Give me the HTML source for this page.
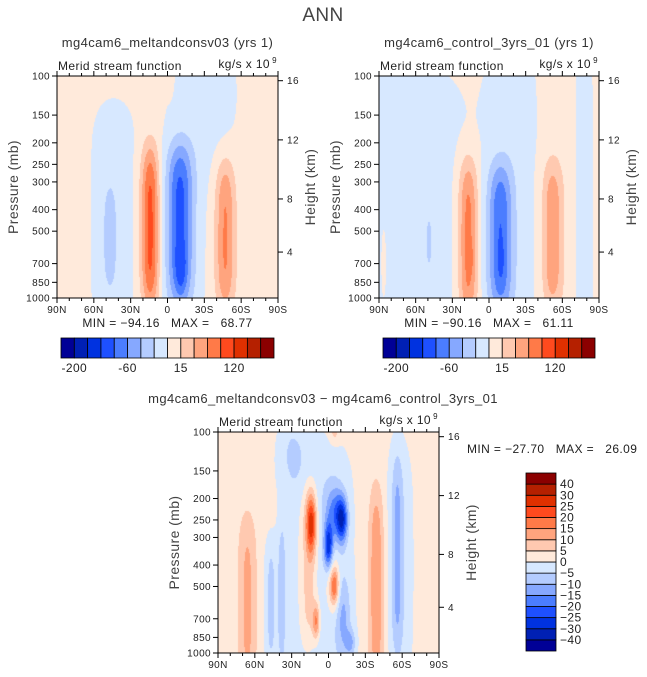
<!DOCTYPE html>
<html><head><meta charset="utf-8"><style>
body{margin:0;background:#fff;width:647px;height:677px;overflow:hidden;position:relative;font-family:"Liberation Sans",sans-serif}
canvas{position:absolute}
svg{position:absolute;left:0;top:0}
text{white-space:pre}
</style></head><body>
<canvas id="c1"></canvas>
<canvas id="c2"></canvas>
<canvas id="c3"></canvas>
<svg id="ov" width="647" height="677"></svg>
<script>
// ---- data ----
const palette=['#000096','#0020B4','#0032E0','#1E50FF','#4B7DFF','#86A8FF','#B4CCFF','#D7E8FF','#FFEADB','#FFC9B0','#FFA47E','#FF7A48','#FF4A1E','#E03000','#B52000','#8B0000'];
const levelsAbs=[-200,-160,-120,-80,-60,-40,-20,0,15,30,45,60,120,160,200];
const levelsDiff=[-40,-30,-25,-20,-15,-10,-5,0,5,10,15,20,25,30,40];
const cbAbsLabels=['-200','-60','15','120'];
const cbAbsLabelIdx=[0,4,8,12];
const cbDiffLabels=['40','30','25','20','15','10','5','0','\u22125','\u221210','\u221215','\u221220','\u221225','\u221230','\u221240'];
const pTicks=[100,150,200,250,300,400,500,700,850,1000];
const latTicks=[90,60,30,0,-30,-60,-90];
const latLabels=['90N','60N','30N','0','30S','60S','90S'];
const hTickLabels=['16','12','8','4'];
const hTickP=[105,194,358,621];
// blobs: [lat, pressure, amplitude, sx(deg), sy(log10 p), power]
const bg1=5, bg2=5, bg3=2.5;
const blobs1=[[14,480,62,7.5,0.37,4],[-10,470,-78,10.5,0.37,4],[-11,740,-25,4,0.1,2],[-47,520,42,8,0.34,4],[47,530,-30,5,0.22,3],[44,450,-14,18,0.55,6],[-28,120,-14,28,0.35,2],[-12,520,-14,17,0.42,6],[-2,100,12,3,0.08,2]];
const blobs2=[[62,500,-14,42,0.75,8],[86,700,9,2.5,0.2,2],[17,550,50,8,0.37,4],[15,660,12,2,0.06,2],[-9,540,-72,10,0.34,4],[-10,680,-10,3,0.1,2],[-18,350,-14,21,0.75,6],[-52,520,38,8.5,0.34,4],[-78,400,-14,7,0.8,6],[49,560,-16,3.5,0.14,3]];
const blobs3=[[66,600,9,7,0.4,4],[47,600,-8,5,0.3,4],[38,550,-8,3.5,0.35,4],[8,400,-7,28,0.6,6],[14,260,24,4,0.13,2],[16,400,11,7,0.38,4],[10,720,16,3,0.08,2],[0,330,-26,3.5,0.1,2],[-11,250,-26,4.5,0.1,2],[-5,230,-14,7,0.12,2],[-5,500,17,3.5,0.08,2],[-3,480,8,6,0.15,2],[-12,700,-10,6,0.2,2],[-39,500,13,6,0.45,4],[-56,350,-9,4.5,0.45,4],[-58,400,-6,12,0.6,4],[30,120,-6,12,0.2,2],[-5,100,6,4,0.05,2],[-18,900,-10,4,0.06,2]];

const panels=[
 {id:'c1',x0:57,x1:278,y0:76,y1:298,bg:bg1,blobs:blobs1,lev:levelsAbs},
 {id:'c2',x0:379,x1:599,y0:76,y1:298,bg:bg2,blobs:blobs2,lev:levelsAbs},
 {id:'c3',x0:218,x1:439,y0:432,y1:653,bg:bg3,blobs:blobs3,lev:levelsDiff}];

function xScale(p,lat){return p.x0+(90-lat)/180*(p.x1-p.x0);}
function yScale(p,pr){return p.y0+Math.log10(pr/100)*(p.y1-p.y0);}
function field(p,lat,lp){let v=p.bg;for(const b of p.blobs){const dx=(lat-b[0])/b[3],dy=Math.abs((lp-Math.log10(b[1]))/b[4]);v+=b[2]*Math.exp(-dx*dx-Math.pow(dy,b[5]));}return v;}
function colorIdx(lev,v){let i=0;while(i<lev.length&&v>=lev[i])i++;return i;}
function hex(h){return [parseInt(h.substr(1,2),16),parseInt(h.substr(3,2),16),parseInt(h.substr(5,2),16)];}
const pal=palette.map(hex);
for(const p of panels){
 const c=document.getElementById(p.id);const w=p.x1-p.x0,h=p.y1-p.y0;
 c.width=w;c.height=h;c.style.left=p.x0+'px';c.style.top=p.y0+'px';
 const ctx=c.getContext('2d');const img=ctx.createImageData(w,h);
 for(let j=0;j<h;j++){const lp=2+(j+0.5)/h;for(let i=0;i<w;i++){const lat=90-(i+0.5)/w*180;const k=colorIdx(p.lev,field(p,lat,lp));const col=pal[k];const o=(j*w+i)*4;img.data[o]=col[0];img.data[o+1]=col[1];img.data[o+2]=col[2];img.data[o+3]=255;}}
 ctx.putImageData(img,0,0);
}
// ---- overlay ----
const NS='http://www.w3.org/2000/svg';const ov=document.getElementById('ov');
function el(t,a,txt){const e=document.createElementNS(NS,t);for(const k in a)e.setAttribute(k,a[k]);if(txt!==undefined)e.textContent=txt;ov.appendChild(e);return e;}
function text(x,y,s,size,anchor,name,extra){const e=el('text',Object.assign({x:x,y:y,'font-size':size,'text-anchor':anchor||'start',fill:'#222','letter-spacing':'0.4'},extra||{}),s);
 
 return e;}
text(323,21,'ANN',19,'middle','main-title',{fill:'#444'});
const titles=['mg4cam6_meltandconsv03 (yrs 1)','mg4cam6_control_3yrs_01 (yrs 1)','mg4cam6_meltandconsv03 \u2212 mg4cam6_control_3yrs_01'];
const minmax=['MIN = \u221294.16   MAX =   68.77','MIN = \u221290.16   MAX =   61.11'];
panels.forEach((p,n)=>{
 const cx=(p.x0+p.x1)/2;
 text(n<2?cx:323,p.y0-29,titles[n],13,'middle','panel-title',{fill:'#333'});
 text(p.x0+1,p.y0-6,'Merid stream function',12,'start','variable-label');
 text(p.x1-8,p.y0-8,'kg/s x 10',12,'end','units-label');
 text(p.x1-1,p.y0-13,'9',8,'end','units-exponent');
 const r=el('rect',{x:p.x0,y:p.y0,width:p.x1-p.x0,height:p.y1-p.y0,fill:'none',stroke:'#000','stroke-width':1});
 
 
 pTicks.forEach(pr=>{const y=yScale(p,pr);el('line',{x1:p.x0-5,x2:p.x0,y1:y,y2:y,stroke:'#000'});text(p.x0-7,y+3.5,String(pr),10,'end','pressure-tick-label');});
 for(let lat=90;lat>=-90;lat-=10){const x=xScale(p,lat);const major=lat%30===0;el('line',{x1:x,x2:x,y1:p.y1,y2:p.y1+(major?5:3),stroke:'#000'});el('line',{x1:x,x2:x,y1:p.y0,y2:p.y0-(major?5:3),stroke:'#000'});}
 latTicks.forEach((lat,i)=>text(xScale(p,lat),p.y1+15,latLabels[i],10,'middle','latitude-tick-label'));
 hTickP.forEach((pr,i)=>{const y=yScale(p,pr);el('line',{x1:p.x1,x2:p.x1+5,y1:y,y2:y,stroke:'#000'});text(p.x1+9,y+3.5,hTickLabels[i],10,'start','height-tick-label');});
 const yc=(p.y0+p.y1)/2;
 text(0,0,'Pressure (mb)',14,'middle','y-axis-title-pressure',{transform:`translate(${p.x0-39},${yc}) rotate(-90)`,fill:'#444'});
 text(0,0,'Height (km)',14,'middle','y-axis-title-height',{transform:`translate(${p.x1+37},${yc}) rotate(-90)`,fill:'#444'});
 if(n<2){
  text(cx,p.y1+29,minmax[n],12,'middle','min-max-label');
  const bx=p.x0+4,bw=(p.x1-p.x0-8)/16,by=338;
  palette.forEach((c,k)=>{const b=el('rect',{x:bx+k*bw,y:by,width:bw,height:20,fill:c,stroke:'#000','stroke-width':0.8});
   
   });
  cbAbsLabelIdx.forEach((k,i)=>text(bx+(k+1)*bw,by+34,cbAbsLabels[i],12,'middle','colorbar-label'));
 } else {
  text(467,453,'MIN = \u221227.70   MAX =   26.09',12,'start','min-max-label');
  const bx=526,bw=30,bh=178/16,by=473;
  palette.forEach((c,k)=>{const b=el('rect',{x:bx,y:by+(15-k)*bh,width:bw,height:bh,fill:c,stroke:'#000','stroke-width':0.8});
   
   });
  cbDiffLabels.forEach((s,i)=>text(bx+bw+4,by+(i+1)*bh+4,s,12,'start','colorbar-label'));
 }
});
</script>
</body></html>
